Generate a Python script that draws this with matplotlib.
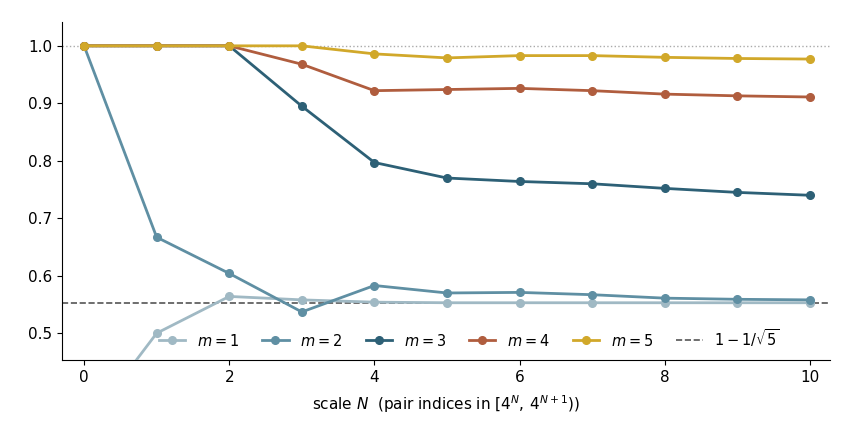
import numpy as np
import matplotlib.pyplot as plt

N = list(range(11))

m1 = [0.333, 0.500, 0.564, 0.558, 0.554, 0.553, 0.553, 0.553, 0.553, 0.553, 0.553]
m2 = [1.000, 0.667, 0.604, 0.537, 0.583, 0.570, 0.571, 0.567, 0.561, 0.559, 0.558]
m3 = [1.000, 1.000, 1.000, 0.895, 0.797, 0.770, 0.764, 0.760, 0.752, 0.745, 0.740]
m4 = [1.000, 1.000, 1.000, 0.968, 0.922, 0.924, 0.926, 0.922, 0.916, 0.913, 0.911]
m5 = [1.000, 1.000, 1.000, 1.000, 0.986, 0.979, 0.983, 0.983, 0.980, 0.978, 0.977]

series = [m1, m2, m3, m4, m5]
labels = ['$m=1$', '$m=2$', '$m=3$', '$m=4$', '$m=5$']
colors = ['#a0b9c4', '#5f8fa3', '#2d6076', '#b05d3e', '#d1a82a']

limit = 1 - 1 / np.sqrt(5)

fig, ax = plt.subplots(figsize=(8.42, 4.34), dpi=100)
fig.subplots_adjust(left=0.074, right=0.986, top=0.95, bottom=0.17)

ax.axhline(1.0, color='#aaaaaa', ls=':', lw=1, zorder=1)

for ys, lab, c in zip(series, labels, colors):
    ax.plot(N, ys, '-o', color=c, lw=2, ms=5.5, label=lab, zorder=3)

ax.axhline(limit, color='#555555', ls='--', lw=1.2, label=r'$1-1/\sqrt{5}$', zorder=2)

ax.set_xlim(-0.3, 10.28)
ax.set_ylim(0.453, 1.042)
ax.set_xticks([0, 2, 4, 6, 8, 10])
ax.set_yticks([0.5, 0.6, 0.7, 0.8, 0.9, 1.0])
ax.tick_params(labelsize=11)
ax.spines['top'].set_visible(False)
ax.spines['right'].set_visible(False)
ax.set_xlabel(r'scale $N$  (pair indices in $[4^N,\,4^{N+1})$)', fontsize=11, labelpad=6)

ax.legend(loc='lower center', bbox_to_anchor=(0.53, 0), ncol=6, frameon=False,
          fontsize=10.5, handlelength=1.8, columnspacing=1.6, borderaxespad=0.4)

fig.savefig('out.png', dpi=100)
